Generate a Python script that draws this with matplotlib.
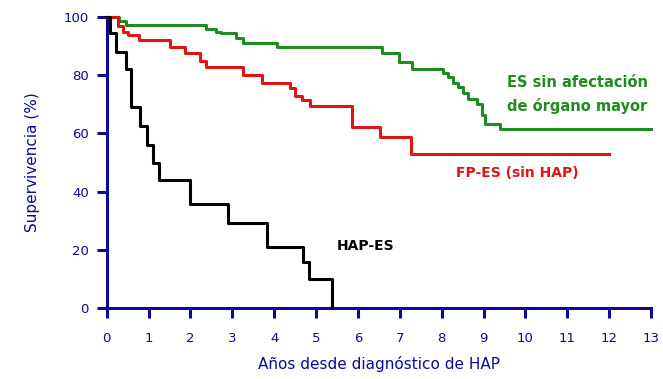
import numpy as np
import matplotlib.pyplot as plt

# Kaplan-Meier style survival curves (years, % survival)
hap_t = [0, 0.07, 0.23, 0.45, 0.59, 0.8, 0.95, 1.1, 1.25, 1.98, 2.9, 3.82, 4.69, 4.83, 5.37]
hap_s = [100, 94.5, 88, 82, 69, 62.5, 56, 50, 44, 35.7, 29.3, 21, 16, 10, 0]

fp_t = [0, 0.26, 0.4, 0.5, 0.77, 1.5, 1.87, 2.22, 2.38, 3.26, 3.7, 4.38, 4.5, 4.66, 4.86,
        5.86, 6.53, 7.27, 12.0]
fp_s = [100, 97, 95, 94, 92, 89.8, 87.7, 85, 83, 80, 77.4, 75.5, 73, 71.5, 69.4,
        62.3, 58.9, 52.9, 52.9]

es_t = [0, 0.3, 0.47, 2.37, 2.62, 2.74, 3.09, 3.25, 4.06, 6.57, 6.97, 7.3, 8.04, 8.16,
        8.28, 8.4, 8.52, 8.62, 8.84, 8.96, 9.04, 9.4, 13.0]
es_s = [100, 98.5, 97.2, 96, 95, 94.4, 92.7, 91.2, 89.8, 87.5, 84.7, 82, 80.9, 79.3,
        77.4, 75.8, 74, 71.7, 70.3, 66.3, 63.2, 61.4, 61.4]

navy = '#0a0a96'
green = '#1e8c1e'
red = '#dd1515'

fig = plt.figure(figsize=(6.63, 3.79), dpi=100)
ax = fig.add_axes([0.161, 0.187, 0.821, 0.768])

ax.step(es_t, es_s, where='post', color=green, lw=2.2, clip_on=False)
ax.step(fp_t, fp_s, where='post', color=red, lw=2.2, clip_on=False)
ax.step(hap_t, hap_s, where='post', color='black', lw=2.2, clip_on=False, zorder=3)

ax.set_xlim(0, 13)
ax.set_ylim(0, 100)
ax.set_xticks(range(0, 14))
ax.set_yticks(range(0, 101, 20))

for s in ['top', 'right']:
    ax.spines[s].set_visible(False)
for s in ['left', 'bottom']:
    ax.spines[s].set_color(navy)
    ax.spines[s].set_linewidth(2.2)
ax.tick_params(colors=navy, width=2.2, length=7, direction='out', labelsize=9.5)
ax.tick_params(axis='x', pad=10)
ax.tick_params(axis='y', pad=6)
for lbl in ax.get_xticklabels() + ax.get_yticklabels():
    lbl.set_color(navy)

ax.set_xlabel('Años desde diagnóstico de HAP', color=navy, fontsize=11, labelpad=8)
ax.set_ylabel('Supervivencia (%)', color=navy, fontsize=11, labelpad=17)

ax.text(9.55, 73.5, 'ES sin afectación\nde órgano mayor', color=green, fontsize=10.5,
        fontweight='bold', ha='left', va='center', linespacing=1.6)
ax.text(8.35, 46.5, 'FP-ES (sin HAP)', color=red, fontsize=10, fontweight='bold',
        ha='left', va='center')
ax.text(5.5, 21.5, 'HAP-ES', color='black', fontsize=10, fontweight='bold',
        ha='left', va='center')

plt.savefig('out.png', dpi=100)
